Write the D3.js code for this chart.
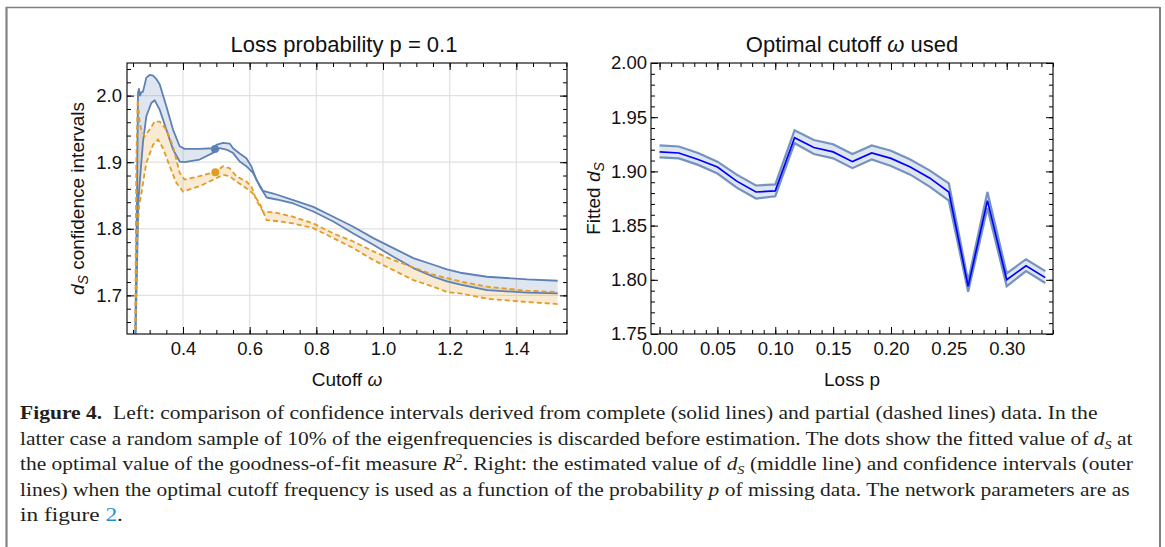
<!DOCTYPE html>
<html><head><meta charset="utf-8">
<script src="https://cdn.jsdelivr.net/npm/d3@7"></script>
<style>
body{margin:0;background:#fff}
svg{display:block}
text{font-family:"Liberation Sans",Arial,Helvetica,sans-serif;fill:#111}
</style>
</head><body>
<svg id="c" width="1165" height="547"></svg>
<script>
// ---------------- Left panel data (cutoff omega vs d_S) ----------------
const blueUpperX = [0.256,0.262,0.265,0.268,0.271,0.275,0.280,0.290,0.300,0.310,0.320,0.330,0.350,0.370,0.390,0.405,0.450,0.490,0.500,0.520,0.540,0.550,0.570,0.590,0.605,0.620,0.640,0.671,0.731,0.791,0.851,0.911,0.971,1.031,1.091,1.151,1.192,1.232,1.312,1.432,1.524];
const blueUpperY = [1.600,1.850,2.005,2.010,2.000,2.005,2.006,2.027,2.031,2.030,2.025,2.017,1.984,1.949,1.924,1.920,1.920,1.921,1.926,1.929,1.928,1.921,1.913,1.906,1.894,1.874,1.857,1.853,1.843,1.833,1.818,1.803,1.786,1.771,1.756,1.746,1.739,1.734,1.728,1.724,1.722];
const blueLowerX = [0.256,0.262,0.266,0.270,0.280,0.290,0.305,0.315,0.330,0.350,0.370,0.390,0.405,0.450,0.490,0.510,0.530,0.550,0.570,0.590,0.610,0.630,0.651,0.681,0.731,0.791,0.851,0.911,0.971,1.031,1.091,1.151,1.192,1.232,1.312,1.432,1.524];
const blueLowerY = [1.600,1.740,1.840,1.869,1.930,1.969,1.989,1.993,1.979,1.949,1.919,1.901,1.900,1.904,1.914,1.921,1.919,1.914,1.901,1.894,1.884,1.864,1.847,1.844,1.838,1.826,1.811,1.793,1.776,1.758,1.741,1.728,1.721,1.716,1.708,1.704,1.703];
const orangeUpperX = [0.256,0.260,0.264,0.270,0.275,0.285,0.300,0.315,0.330,0.350,0.370,0.390,0.405,0.450,0.500,0.520,0.540,0.560,0.590,0.605,0.620,0.640,0.681,0.731,0.791,0.851,0.911,0.971,1.031,1.091,1.151,1.192,1.232,1.312,1.432,1.524];
const orangeUpperY = [1.600,1.900,1.994,1.960,1.949,1.939,1.949,1.961,1.961,1.949,1.924,1.884,1.874,1.879,1.886,1.894,1.891,1.879,1.871,1.864,1.843,1.826,1.824,1.818,1.808,1.793,1.781,1.766,1.753,1.742,1.731,1.726,1.721,1.713,1.707,1.705];
const orangeLowerX = [0.256,0.262,0.268,0.275,0.290,0.310,0.325,0.340,0.360,0.380,0.400,0.450,0.500,0.520,0.540,0.560,0.590,0.610,0.630,0.651,0.691,0.731,0.791,0.851,0.911,0.971,1.031,1.091,1.151,1.192,1.232,1.312,1.432,1.524];
const orangeLowerY = [1.600,1.780,1.833,1.853,1.899,1.926,1.934,1.921,1.894,1.869,1.856,1.864,1.876,1.881,1.879,1.871,1.861,1.853,1.838,1.813,1.811,1.808,1.801,1.786,1.771,1.753,1.738,1.723,1.713,1.705,1.703,1.695,1.690,1.687];
const dotX = [0.496, 0.497];
const dotY = [1.920, 1.885];
const leftXTicks = [0.4,0.6,0.8,1.0,1.2,1.4];
const leftYTicks = [1.7,1.8,1.9,2.0];
const leftXMinor = [0.25,0.30,0.35,0.40,0.45,0.50,0.55,0.60,0.65,0.70,0.75,0.80,0.85,0.90,0.95,1.00,1.05,1.10,1.15,1.20,1.25,1.30,1.35,1.40,1.45,1.50,1.55];
const leftYMinor = [1.66,1.68,1.70,1.72,1.74,1.76,1.78,1.80,1.82,1.84,1.86,1.88,1.90,1.92,1.94,1.96,1.98,2.00,2.02,2.04];

// ---------------- Right panel data (loss p vs fitted d_S) ----------------
const lossP = [0,1/60,2/60,3/60,4/60,5/60,6/60,7/60,8/60,9/60,10/60,11/60,12/60,13/60,14/60,15/60,16/60,17/60,18/60,19/60,20/60];
const fitted = [1.918,1.917,1.911,1.904,1.891,1.881,1.882,1.931,1.922,1.918,1.909,1.917,1.912,1.904,1.894,1.881,1.794,1.873,1.800,1.813,1.802];
const ciLow  = [1.913,1.912,1.906,1.898,1.885,1.875,1.877,1.926,1.916,1.912,1.903,1.911,1.905,1.897,1.886,1.873,1.789,1.866,1.794,1.808,1.797];
const ciHigh = [1.924,1.923,1.917,1.909,1.897,1.887,1.888,1.938,1.929,1.925,1.916,1.924,1.919,1.911,1.901,1.889,1.799,1.881,1.806,1.819,1.808];
const rightXTicks = [0,0.05,0.10,0.15,0.20,0.25,0.30];
const rightYTicks = [1.75,1.80,1.85,1.90,1.95,2.00];
const rightXMinor = [0,0.01,0.02,0.03,0.04,0.05,0.06,0.07,0.08,0.09,0.10,0.11,0.12,0.13,0.14,0.15,0.16,0.17,0.18,0.19,0.20,0.21,0.22,0.23,0.24,0.25,0.26,0.27,0.28,0.29,0.30,0.31,0.32,0.33,0.34];
const rightYMinor = [1.75,1.76,1.77,1.78,1.79,1.80,1.81,1.82,1.83,1.84,1.85,1.86,1.87,1.88,1.89,1.90,1.91,1.92,1.93,1.94,1.95,1.96,1.97,1.98,1.99,2.00];

const svg = d3.select("#c");
const BLUE = "#5E81B5", ORANGE = "#E19C24";
const TICKFONT = 18.5;

// outer figure border
svg.append("path").attr("d","M6.5,547 V7.5 H1160").attr("fill","none").attr("stroke","#808080").attr("stroke-width",1.3);
svg.append("line").attr("x1",1160).attr("x2",1160).attr("y1",7).attr("y2",547).attr("stroke","#808080").attr("stroke-width",2);
svg.append("line").attr("x1",6.5).attr("x2",6.5).attr("y1",7).attr("y2",547).attr("stroke","#808080").attr("stroke-width",2);

function frameTicks(g, x, y, W, H, xMaj, yMaj, xMin, yMin, fx, fy, padY) {
  const big = 7, small = 4;
  const ax = [
    [d3.axisBottom(x).tickValues(xMaj).tickSize(-big).tickPadding(8).tickFormat(fx), `translate(0,${H})`],
    [d3.axisBottom(x).tickValues(xMin).tickSize(-small).tickFormat(""), `translate(0,${H})`],
    [d3.axisTop(x).tickValues(xMaj).tickSize(-big).tickFormat(""), `translate(0,0)`],
    [d3.axisTop(x).tickValues(xMin).tickSize(-small).tickFormat(""), `translate(0,0)`],
    [d3.axisLeft(y).tickValues(yMaj).tickSize(-big).tickPadding(padY).tickFormat(fy), `translate(0,0)`],
    [d3.axisLeft(y).tickValues(yMin).tickSize(-small).tickFormat(""), `translate(0,0)`],
    [d3.axisRight(y).tickValues(yMaj).tickSize(-big).tickFormat(""), `translate(${W},0)`],
    [d3.axisRight(y).tickValues(yMin).tickSize(-small).tickFormat(""), `translate(${W},0)`]
  ];
  ax.forEach(([a, tr]) => {
    const s = g.append("g").attr("transform", tr).call(a);
    s.select(".domain").remove();
    s.selectAll("line").attr("stroke","#000").attr("stroke-width",1);
    s.selectAll("text").attr("font-size", TICKFONT).attr("fill","#111").attr("font-family","'Liberation Sans',Arial,sans-serif");
  });
  g.append("rect").attr("width",W).attr("height",H).attr("fill","none").attr("stroke","#000").attr("stroke-width",1.1);
}

// ================= LEFT PANEL =================
{
  const L = {x: 127, y: 63, w: 440, h: 271};
  const g = svg.append("g").attr("transform",`translate(${L.x},${L.y})`);
  const x = d3.scaleLinear().domain([0.232,1.552]).range([0,L.w]);
  const y = d3.scaleLinear().domain([1.642,2.049]).range([L.h,0]);
  svg.append("clipPath").attr("id","clipL").append("rect").attr("width",L.w).attr("height",L.h);

  // grid
  g.selectAll(".gx").data(leftXTicks).join("line").attr("x1",d=>x(d)).attr("x2",d=>x(d)).attr("y1",0).attr("y2",L.h).attr("stroke","#e1e1e1").attr("stroke-width",1.2);
  g.selectAll(".gy").data(leftYTicks).join("line").attr("y1",d=>y(d)).attr("y2",d=>y(d)).attr("x1",0).attr("x2",L.w).attr("stroke","#e1e1e1").attr("stroke-width",1.2);

  const pl = g.append("g").attr("clip-path","url(#clipL)");
  const line = d3.line().x(d=>x(d[0])).y(d=>y(d[1]));
  const zip = (a,b)=>a.map((v,i)=>[v,b[i]]);
  const bu = zip(blueUpperX, blueUpperY), bl = zip(blueLowerX, blueLowerY);
  const ou = zip(orangeUpperX, orangeUpperY), ol = zip(orangeLowerX, orangeLowerY);

  pl.append("path").attr("d", line(ou.concat(ol.slice().reverse()))+"Z").attr("fill",ORANGE).attr("fill-opacity",0.2);
  pl.append("path").attr("d", line(bu.concat(bl.slice().reverse()))+"Z").attr("fill",BLUE).attr("fill-opacity",0.2);
  [bu, bl].forEach(s => pl.append("path").attr("d", line(s)).attr("fill","none").attr("stroke",BLUE).attr("stroke-width",1.8).attr("stroke-linejoin","round"));
  [ou, ol].forEach(s => pl.append("path").attr("d", line(s)).attr("fill","none").attr("stroke",ORANGE).attr("stroke-width",1.8).attr("stroke-dasharray","5,3"));
  pl.selectAll(".dot").data(zip(dotX,dotY)).join("circle").attr("cx",d=>x(d[0])).attr("cy",d=>y(d[1])).attr("r",4).attr("fill",(d,i)=>i?ORANGE:BLUE);

  frameTicks(g, x, y, L.w, L.h, leftXTicks, leftYTicks, leftXMinor, leftYMinor, d3.format(".1f"), d3.format(".1f"), 5);

  svg.append("text").attr("x", L.x+L.w/2-3).attr("y", 52).attr("text-anchor","middle").attr("font-size",22).text("Loss probability p = 0.1");
  const xl = svg.append("text").attr("x", L.x+L.w/2).attr("y", 386).attr("text-anchor","middle").attr("font-size",19);
  xl.append("tspan").text("Cutoff ");
  xl.append("tspan").attr("font-style","italic").text("ω");
  const yl = svg.append("text").attr("transform",`translate(84,${L.y+L.h/2}) rotate(-90)`).attr("text-anchor","middle").attr("font-size",19);
  yl.append("tspan").attr("font-style","italic").text("d");
  yl.append("tspan").attr("font-style","italic").attr("font-size",14).attr("dy",4).text("S");
  yl.append("tspan").attr("dy",-4).text(" confidence intervals");
}

// ================= RIGHT PANEL =================
{
  const R = {x: 651, y: 63, w: 402, h: 271};
  const g = svg.append("g").attr("transform",`translate(${R.x},${R.y})`);
  const x = d3.scaleLinear().domain([-0.0074,0.340]).range([0,R.w]);
  const y = d3.scaleLinear().domain([1.75,2.00]).range([R.h,0]);
  svg.append("clipPath").attr("id","clipR").append("rect").attr("width",R.w).attr("height",R.h);
  const pl = g.append("g").attr("clip-path","url(#clipR)");
  const area = d3.area().x((d,i)=>x(lossP[i])).y0((d,i)=>y(ciLow[i])).y1((d,i)=>y(ciHigh[i]));
  pl.append("path").attr("d", area(lossP)).attr("fill",BLUE).attr("fill-opacity",0.2);
  const ln = arr => d3.line().x((d,i)=>x(lossP[i])).y((d,i)=>y(arr[i]))(lossP);
  pl.append("path").attr("d", ln(ciLow)).attr("fill","none").attr("stroke",BLUE).attr("stroke-opacity",0.85).attr("stroke-width",2.2);
  pl.append("path").attr("d", ln(ciHigh)).attr("fill","none").attr("stroke",BLUE).attr("stroke-opacity",0.85).attr("stroke-width",2.2);
  pl.append("path").attr("d", ln(fitted)).attr("fill","none").attr("stroke","#0000ff").attr("stroke-width",1.7);

  frameTicks(g, x, y, R.w, R.h, rightXTicks, rightYTicks, rightXMinor, rightYMinor, d3.format(".2f"), d3.format(".2f"), 4);

  const t = svg.append("text").attr("x", R.x+R.w/2).attr("y", 52).attr("text-anchor","middle").attr("font-size",22);
  t.append("tspan").text("Optimal cutoff ");
  t.append("tspan").attr("font-style","italic").text("ω");
  t.append("tspan").text(" used");
  svg.append("text").attr("x", R.x+R.w/2).attr("y", 386).attr("text-anchor","middle").attr("font-size",19).text("Loss p");
  const yl = svg.append("text").attr("transform",`translate(600,${R.y+R.h/2}) rotate(-90)`).attr("text-anchor","middle").attr("font-size",19);
  yl.append("tspan").text("Fitted ");
  yl.append("tspan").attr("font-style","italic").text("d");
  yl.append("tspan").attr("font-style","italic").attr("font-size",14).attr("dy",4).text("S");
}

// ================= CAPTION =================
const captionLines = [
  [["b","Figure 4."],["n","\u00a0\u00a0Left: comparison of confidence intervals derived from complete (solid lines) and partial (dashed lines) data. In the"]],
  [["n","latter case a random sample of 10% of the eigenfrequencies is discarded before estimation. The dots show the fitted value of "],["i","d"],["sub","S"],["n"," at"]],
  [["n","the optimal value of the goodness-of-fit measure "],["i","R"],["sup","2"],["n",". Right: the estimated value of "],["i","d"],["sub","S"],["n"," (middle line) and confidence intervals (outer"]],
  [["n","lines) when the optimal cutoff frequency is used as a function of the probability "],["i","p"],["n"," of missing data. The network parameters are as"]],
  [["n","in figure "],["link","2"],["n","."]]
];
const captionEnds = [1098, 1133, 1133, 1130, 123];
const captionBase = [419, 444.5, 470, 495.5, 521];
captionLines.forEach((segs, li) => {
  const t = svg.append("text").attr("font-size",19.5).style("font-family","'Liberation Serif','Times New Roman',serif");
  let shift = 0;
  segs.forEach(([k, s]) => {
    const ts = t.append("tspan").text(s).style("font-family","'Liberation Serif','Times New Roman',serif").attr("fill","#231f20");
    let dy = 0;
    if (k === "b") ts.attr("font-weight","bold");
    if (k === "i") ts.attr("font-style","italic");
    if (k === "sub") { ts.attr("font-style","italic").attr("font-size",13); dy = 4; }
    if (k === "sup") { ts.attr("font-size",13); dy = -8; }
    if (k === "link") ts.attr("fill","#1a8fd6");
    if (dy !== shift) { ts.attr("dy", dy - shift); shift = dy; }
  });
  const w = t.node().getComputedTextLength();
  const sx = (captionEnds[li] - 20) / w;
  t.attr("transform", `translate(20,${captionBase[li]}) scale(${sx},1)`);
});
</script>
</body></html>
